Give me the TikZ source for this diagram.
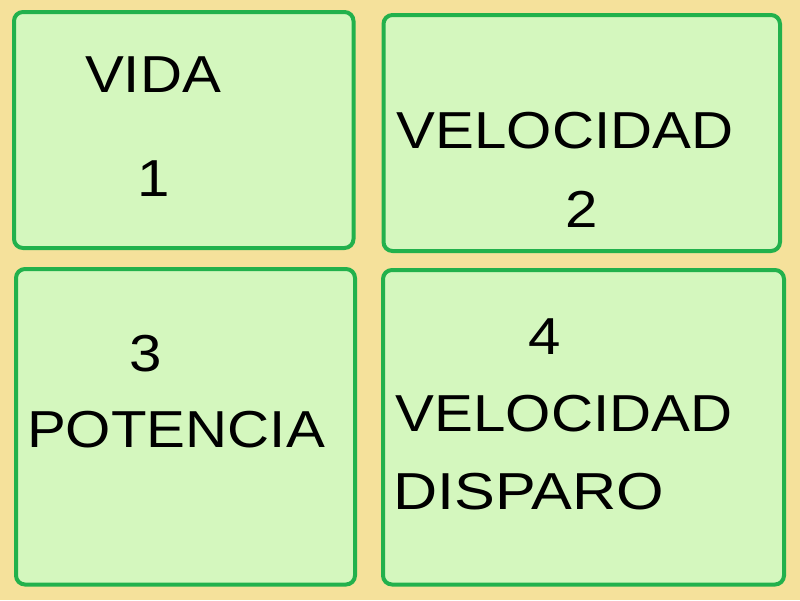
\documentclass[tikz,border=0pt]{standalone}
\usepackage{fontspec}
\setmainfont{Liberation Sans}
\definecolor{bgtan}{HTML}{F5E19B}
\definecolor{boxfill}{HTML}{D4F7BE}
\definecolor{boxline}{HTML}{22B14C}
\begin{document}
\begin{tikzpicture}[x=1pt,y=-1pt,
  panel/.style={draw=boxline,fill=boxfill,line width=4pt,rounded corners=9pt},
  lbl/.style={inner sep=0pt,text=black,font=\fontsize{52}{60}\selectfont,xscale=1.12}]
\fill[bgtan] (0,0) rectangle (800,600);
\useasboundingbox (0,0) rectangle (800,600);
\draw[panel] (14,12) rectangle (353.5,248);
\draw[panel] (383.5,15) rectangle (780,251);
\draw[panel] (16,269) rectangle (355,584.5);
\draw[panel] (383,270) rectangle (784,584.5);
\node[lbl] (vida) at (153,75) {VIDA};
\node[lbl] (uno) at (154,179) {1};
\node[lbl] (vel2) at (565,131) {VELOCIDAD};
\node[lbl] (dos) at (582,209) {2};
\node[lbl] (tres) at (146,354) {3};
\node[lbl] (pot) at (176,430) {POTENCIA};
\node[lbl] (cuatro) at (545,337) {4};
\node[lbl] (vel4) at (564,414) {VELOCIDAD};
\node[lbl,anchor=west,xscale=1.05] (disp) at (393,492) {DISPARO};
\end{tikzpicture}
\end{document}
